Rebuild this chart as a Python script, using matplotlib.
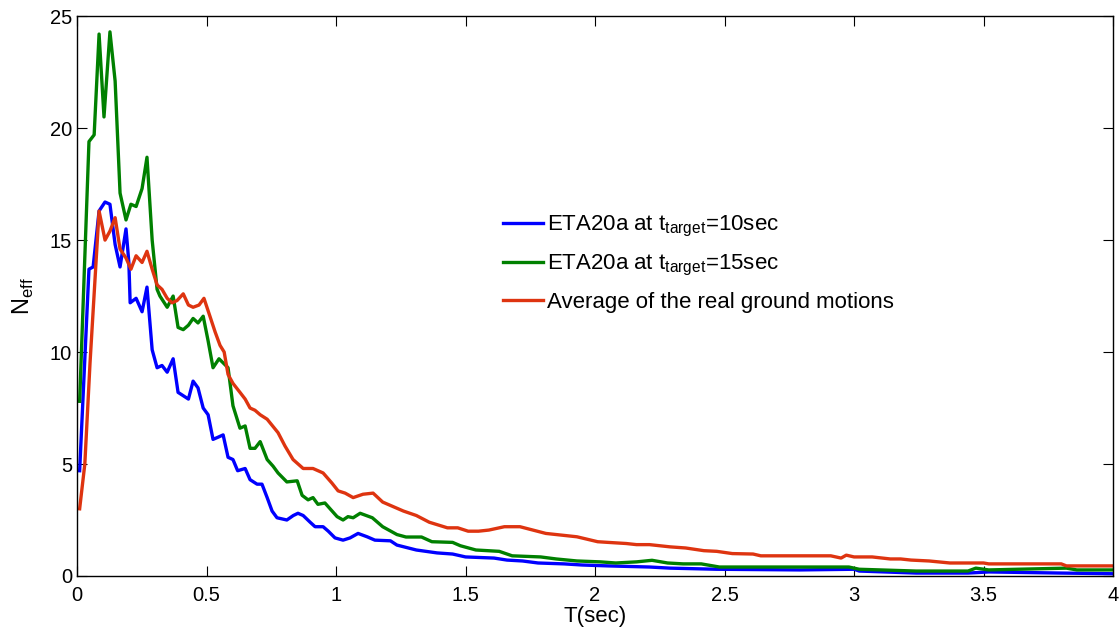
import matplotlib
matplotlib.use("Agg")
import matplotlib.pyplot as plt
from matplotlib.ticker import FormatStrFormatter

plt.rcParams['font.family'] = ['Liberation Sans', 'DejaVu Sans']
plt.rcParams['mathtext.fontset'] = 'custom'
plt.rcParams['mathtext.rm'] = 'Liberation Sans'

# ETA20a at t_target = 10 sec
t_blue = [0.01, 0.046, 0.062, 0.085, 0.108, 0.127, 0.147, 0.166, 0.189, 0.20, 0.205, 0.228, 0.251, 0.27,
          0.29, 0.309, 0.328, 0.348, 0.371, 0.39, 0.43, 0.448, 0.467, 0.487, 0.506, 0.525, 0.545, 0.564,
          0.583, 0.602, 0.62, 0.649, 0.668, 0.695, 0.714, 0.734, 0.753, 0.772, 0.81, 0.835, 0.853, 0.873,
          0.9, 0.919, 0.95, 0.97, 0.996, 1.027, 1.054, 1.085, 1.12, 1.15, 1.21, 1.235, 1.31, 1.39, 1.45,
          1.5, 1.61, 1.66, 1.72, 1.78, 1.88, 1.95, 2.05, 2.21, 2.29, 2.47, 2.79, 3.0, 3.02, 3.24, 3.44,
          3.52, 3.8, 4.0]
n_blue = [4.7, 13.7, 13.8, 16.3, 16.7, 16.6, 14.8, 13.8, 15.5, 14.0, 12.2, 12.4, 11.8, 12.9,
          10.1, 9.3, 9.4, 9.1, 9.7, 8.2, 7.9, 8.7, 8.4, 7.5, 7.2, 6.1, 6.2, 6.3,
          5.3, 5.2, 4.7, 4.8, 4.3, 4.1, 4.1, 3.5, 2.9, 2.6, 2.5, 2.7, 2.8, 2.7,
          2.4, 2.2, 2.2, 2.0, 1.7, 1.6, 1.7, 1.9, 1.75, 1.6, 1.57, 1.38, 1.16, 1.03, 0.98,
          0.85, 0.8, 0.71, 0.67, 0.58, 0.54, 0.49, 0.45, 0.40, 0.35, 0.30, 0.27, 0.3, 0.22, 0.13, 0.13,
          0.18, 0.13, 0.1]

# ETA20a at t_target = 15 sec
t_green = [0.01, 0.046, 0.066, 0.085, 0.104, 0.127, 0.147, 0.166, 0.189, 0.208, 0.228, 0.251, 0.27,
           0.29, 0.309, 0.32, 0.348, 0.371, 0.39, 0.41, 0.43, 0.448, 0.467, 0.487, 0.506, 0.525, 0.548,
           0.583, 0.602, 0.629, 0.649, 0.668, 0.687, 0.707, 0.734, 0.757, 0.776, 0.81, 0.85, 0.869,
           0.892, 0.911, 0.93, 0.957, 0.977, 1.004, 1.027, 1.046, 1.066, 1.093, 1.14, 1.18, 1.235, 1.27,
           1.33, 1.37, 1.45, 1.48, 1.54, 1.63, 1.68, 1.79, 1.85, 1.93, 2.02, 2.08, 2.16, 2.22, 2.28,
           2.34, 2.41, 2.48, 2.79, 2.98, 3.02, 3.24, 3.44, 3.47, 3.52, 3.63, 3.82, 3.86, 4.0]
n_green = [7.8, 19.4, 19.7, 24.2, 20.5, 24.3, 22.1, 17.1, 15.9, 16.6, 16.5, 17.3, 18.7,
           15.0, 12.8, 12.5, 12.0, 12.5, 11.1, 11.0, 11.2, 11.5, 11.3, 11.6, 10.5, 9.3, 9.7,
           9.3, 7.6, 6.6, 6.7, 5.7, 5.7, 6.0, 5.2, 4.9, 4.6, 4.2, 4.25, 3.6,
           3.4, 3.5, 3.2, 3.26, 3.0, 2.65, 2.5, 2.65, 2.6, 2.8, 2.6, 2.2, 1.85, 1.74,
           1.74, 1.53, 1.5, 1.35, 1.16, 1.1, 0.9, 0.85, 0.76, 0.67, 0.63, 0.58, 0.63, 0.7, 0.58,
           0.54, 0.54, 0.4, 0.4, 0.4, 0.3, 0.22, 0.22, 0.35, 0.27, 0.3, 0.35, 0.27, 0.27]

# Average of the real ground motions
t_red = [0.01, 0.03, 0.05, 0.066, 0.085, 0.108, 0.127, 0.147, 0.166, 0.189, 0.208, 0.228, 0.251, 0.27,
         0.29, 0.309, 0.328, 0.348, 0.367, 0.386, 0.41, 0.43, 0.448, 0.471, 0.49, 0.513, 0.533, 0.552,
         0.568, 0.583, 0.602, 0.629, 0.649, 0.668, 0.687, 0.707, 0.734, 0.776, 0.803, 0.834, 0.873,
         0.911, 0.95, 0.984, 1.008, 1.035, 1.066, 1.104, 1.143, 1.18, 1.22, 1.26, 1.31, 1.36, 1.43,
         1.47, 1.51, 1.55, 1.59, 1.65, 1.71, 1.76, 1.81, 1.89, 1.93, 2.01, 2.05, 2.12, 2.16, 2.21,
         2.25, 2.29, 2.35, 2.42, 2.47, 2.53, 2.61, 2.64, 2.91, 2.95, 2.97, 3.0, 3.07, 3.14, 3.18,
         3.22, 3.29, 3.37, 3.5, 3.52, 3.8, 3.82, 4.0]
n_red = [3.0, 5.0, 9.5, 12.6, 16.3, 15.0, 15.4, 16.0, 14.6, 14.2, 13.7, 14.3, 14.0, 14.5,
         13.7, 13.0, 12.8, 12.4, 12.2, 12.3, 12.6, 12.1, 12.0, 12.1, 12.4, 11.6, 10.9, 10.3,
         10.0, 9.0, 8.6, 8.2, 7.9, 7.5, 7.4, 7.2, 7.0, 6.4, 5.8, 5.2, 4.8,
         4.8, 4.6, 4.15, 3.8, 3.7, 3.5, 3.65, 3.7, 3.3, 3.1, 2.9, 2.7, 2.4, 2.15,
         2.15, 2.0, 2.0, 2.05, 2.2, 2.2, 2.05, 1.9, 1.8, 1.75, 1.53, 1.5, 1.45, 1.4, 1.4,
         1.35, 1.3, 1.25, 1.13, 1.1, 1.0, 0.98, 0.9, 0.9, 0.8, 0.93, 0.85, 0.85, 0.76, 0.76,
         0.71, 0.67, 0.58, 0.58, 0.54, 0.54, 0.45, 0.45]

fig = plt.figure(figsize=(11.2, 6.29), dpi=100)
ax = fig.add_axes([0.0688, 0.0843, 0.925, 0.890])

ax.plot(t_blue, n_blue, color='#0000ff', lw=2.4, label=r'ETA20a at t$_{\mathrm{target}}$=10sec')
ax.plot(t_green, n_green, color='#008000', lw=2.4, label=r'ETA20a at t$_{\mathrm{target}}$=15sec')
ax.plot(t_red, n_red, color='#de3410', lw=2.4, label='Average of the real ground motions')

ax.set_xlim(0, 4)
ax.set_ylim(0, 25)
ax.set_xticks([0, 0.5, 1, 1.5, 2, 2.5, 3, 3.5, 4])
ax.set_yticks([0, 5, 10, 15, 20, 25])
ax.xaxis.set_major_formatter(FormatStrFormatter('%g'))
ax.tick_params(direction='in', top=True, right=True, length=7, width=0.8, labelsize=14.5)
ax.tick_params(axis='x', pad=7)
for s in ax.spines.values():
    s.set_linewidth(1.0)

ax.set_xlabel('T(sec)', fontsize=16, labelpad=1)
ax.set_ylabel(r'N$_{\mathrm{eff}}$', fontsize=17, labelpad=10)

ax.legend(loc='upper left', bbox_to_anchor=(0.411, 0.646), frameon=False, fontsize=16,
          handlelength=1.8, handletextpad=0.2, labelspacing=0.61,
          borderpad=0, borderaxespad=0)

fig.savefig('out.png', dpi=100)
